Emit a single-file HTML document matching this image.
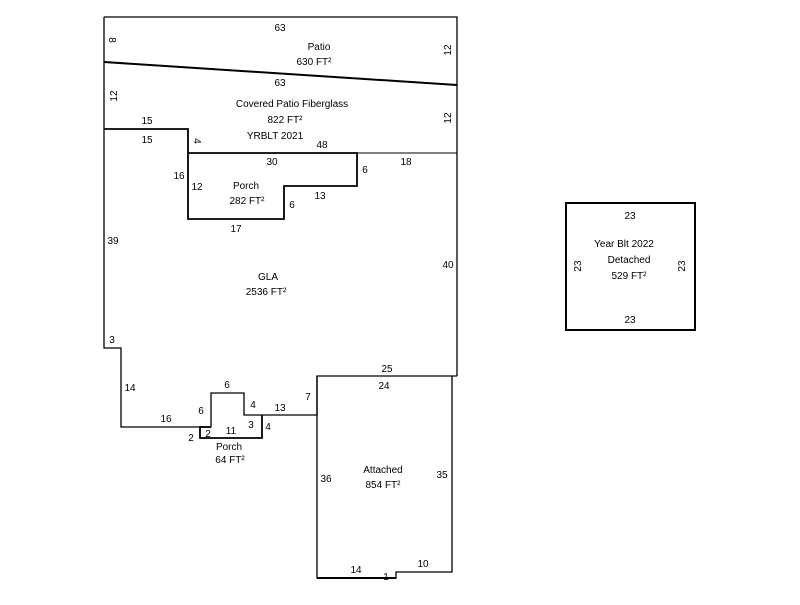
<!DOCTYPE html>
<html><head><style>body{margin:0;background:#fff}svg text{font-family:"Liberation Sans",sans-serif;font-size:10px;fill:#000}</style></head><body>
<svg width="800" height="600" xmlns="http://www.w3.org/2000/svg">
<g fill="none" stroke="#000" stroke-width="1.3">
<path d="M104,17 H457 V376"/>
<path d="M104,17 V348 H121 V427 H211 V393 H244 V415 H317 V376 H457"/>
<path d="M104,62 L457,85" stroke-width="2"/>
<path d="M104,129 H188 V219 H284 V186 H357 V153 H188" stroke-width="1.8"/>
<path d="M357,153 H457" stroke-width="1"/>
<path d="M211,427 H200 V438 H262 V415" stroke-width="1.8"/>
<path d="M317,376 V578 H396 V572 H452 V376" />
<path d="M317,578 H396" stroke-width="2"/>
<rect x="566" y="203" width="129" height="127" stroke-width="2"/>
</g>
<g text-anchor="middle">
<text x="280" y="31">63</text>
<text x="319" y="50">Patio</text>
<text x="314" y="65">630 FT²</text>
<text x="280" y="86">63</text>
<text x="292" y="107">Covered Patio Fiberglass</text>
<text x="285" y="123">822 FT²</text>
<text x="275" y="139">YRBLT 2021</text>
<text x="147" y="124">15</text>
<text x="147" y="143">15</text>
<text x="322" y="148">48</text>
<text x="272" y="165">30</text>
<text x="406" y="165">18</text>
<text x="179" y="179">16</text>
<text x="197" y="190">12</text>
<text x="365" y="173">6</text>
<text x="246" y="189">Porch</text>
<text x="247" y="204">282 FT²</text>
<text x="320" y="199">13</text>
<text x="292" y="208">6</text>
<text x="236" y="232">17</text>
<text x="113" y="244">39</text>
<text x="268" y="280">GLA</text>
<text x="266" y="295">2536 FT²</text>
<text x="448" y="268">40</text>
<text x="112" y="343">3</text>
<text x="130" y="391">14</text>
<text x="387" y="372">25</text>
<text x="384" y="389">24</text>
<text x="227" y="388">6</text>
<text x="308" y="400">7</text>
<text x="253" y="408">4</text>
<text x="280" y="411">13</text>
<text x="201" y="414">6</text>
<text x="166" y="422">16</text>
<text x="251" y="428">3</text>
<text x="268" y="430">4</text>
<text x="191" y="441">2</text>
<text x="208" y="437">2</text>
<text x="231" y="434">11</text>
<text x="229" y="450">Porch</text>
<text x="230" y="463">64 FT²</text>
<text x="383" y="473">Attached</text>
<text x="383" y="488">854 FT²</text>
<text x="326" y="482">36</text>
<text x="442" y="478">35</text>
<text x="356" y="573">14</text>
<text x="386" y="580">1</text>
<text x="423" y="567">10</text>
<text x="630" y="219">23</text>
<text x="624" y="247">Year Blt 2022</text>
<text x="629" y="263">Detached</text>
<text x="629" y="279">529 FT²</text>
<text x="630" y="323">23</text>
<text transform="translate(109,40) rotate(90)">8</text>
<text transform="translate(117,96) rotate(-90)">12</text>
<text transform="translate(451,50) rotate(-90)">12</text>
<text transform="translate(451,118) rotate(-90)">12</text>
<text transform="translate(194,141) rotate(90)">4</text>
<text transform="translate(581,266) rotate(-90)">23</text>
<text transform="translate(685,266) rotate(-90)">23</text>
</g>
</svg>
</body></html>
